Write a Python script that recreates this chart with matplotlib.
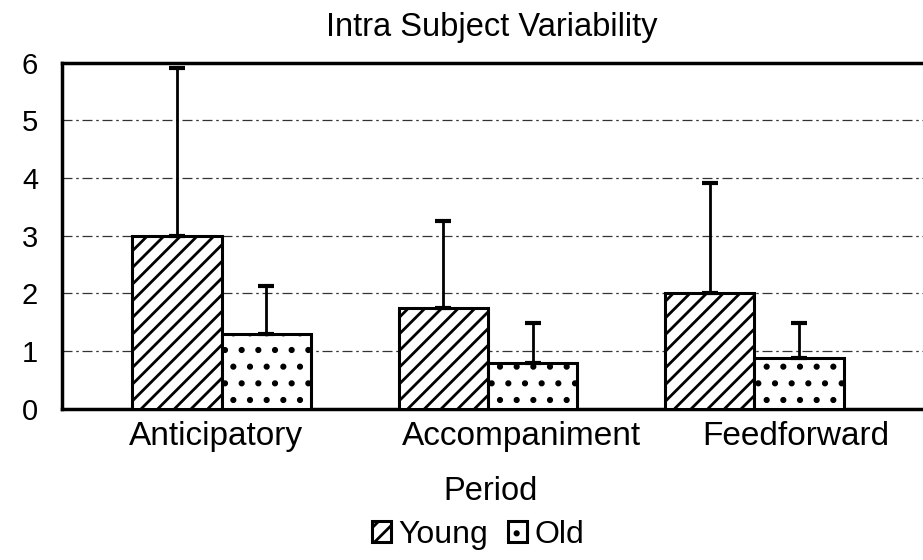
import numpy as np
import matplotlib.pyplot as plt

plt.rcParams['font.family'] = ['Liberation Sans', 'DejaVu Sans']
plt.rcParams['hatch.linewidth'] = 2.0

periods = ["Anticipatory", "Accompaniment", "Feedforward"]
young = [3.0, 1.75, 2.0]
young_err = [2.9, 1.5, 1.92]
old = [1.3, 0.8, 0.88]
old_err = [0.83, 0.69, 0.61]

# the scanned labels sit a little right of their bar groups
label_shift = [-0.02, 0.125, 0.155]

x = np.arange(len(periods))
w = 0.335

fig = plt.figure(figsize=(9.23, 5.6), dpi=100)
ax = fig.add_axes([0.067, 0.27, 0.935, 0.618])

ebar = dict(elinewidth=2, capthick=3, ecolor="black")
ax.bar(x - w/2, young, w, color="white", edgecolor="black", hatch="//",
       linewidth=2.2, label="Young", zorder=3,
       yerr=[np.zeros(3), young_err], capsize=6, error_kw=ebar)
ax.bar(x + w/2, old, w, color="white", edgecolor="black", hatch=".",
       linewidth=2.2, label="Old", zorder=3,
       yerr=[np.zeros(3), old_err], capsize=6, error_kw=ebar)

ax.set_ylim(0, 6)
ax.set_xlim(-0.6, 2.64)
ax.set_yticks(range(7))
ax.set_xticks(x + np.array(label_shift))
ax.set_xticklabels(periods, fontsize=24)
ax.tick_params(axis="y", labelsize=21, length=0, pad=17)
ax.tick_params(axis="x", length=0, pad=9)
ax.yaxis.grid(True, linestyle=(0, (8, 3, 2, 3)), color="#333333", linewidth=0.9)
ax.set_axisbelow(True)
for s in ["left", "bottom", "top"]:
    ax.spines[s].set_linewidth(2.5)
ax.spines["right"].set_visible(False)

fig.text(0.533, 0.9357, "Intra Subject Variability", fontsize=23.5,
         ha="center", va="baseline")
fig.text(0.531, 0.108, "Period", fontsize=23.5, ha="center", va="baseline")

fig.legend(loc="center", bbox_to_anchor=(0.518, 0.045), ncol=2,
           frameon=False, fontsize=23, handlelength=0.6, handleheight=0.6,
           handletextpad=0.25, columnspacing=0.6)

fig.savefig("out.png", dpi=100)
